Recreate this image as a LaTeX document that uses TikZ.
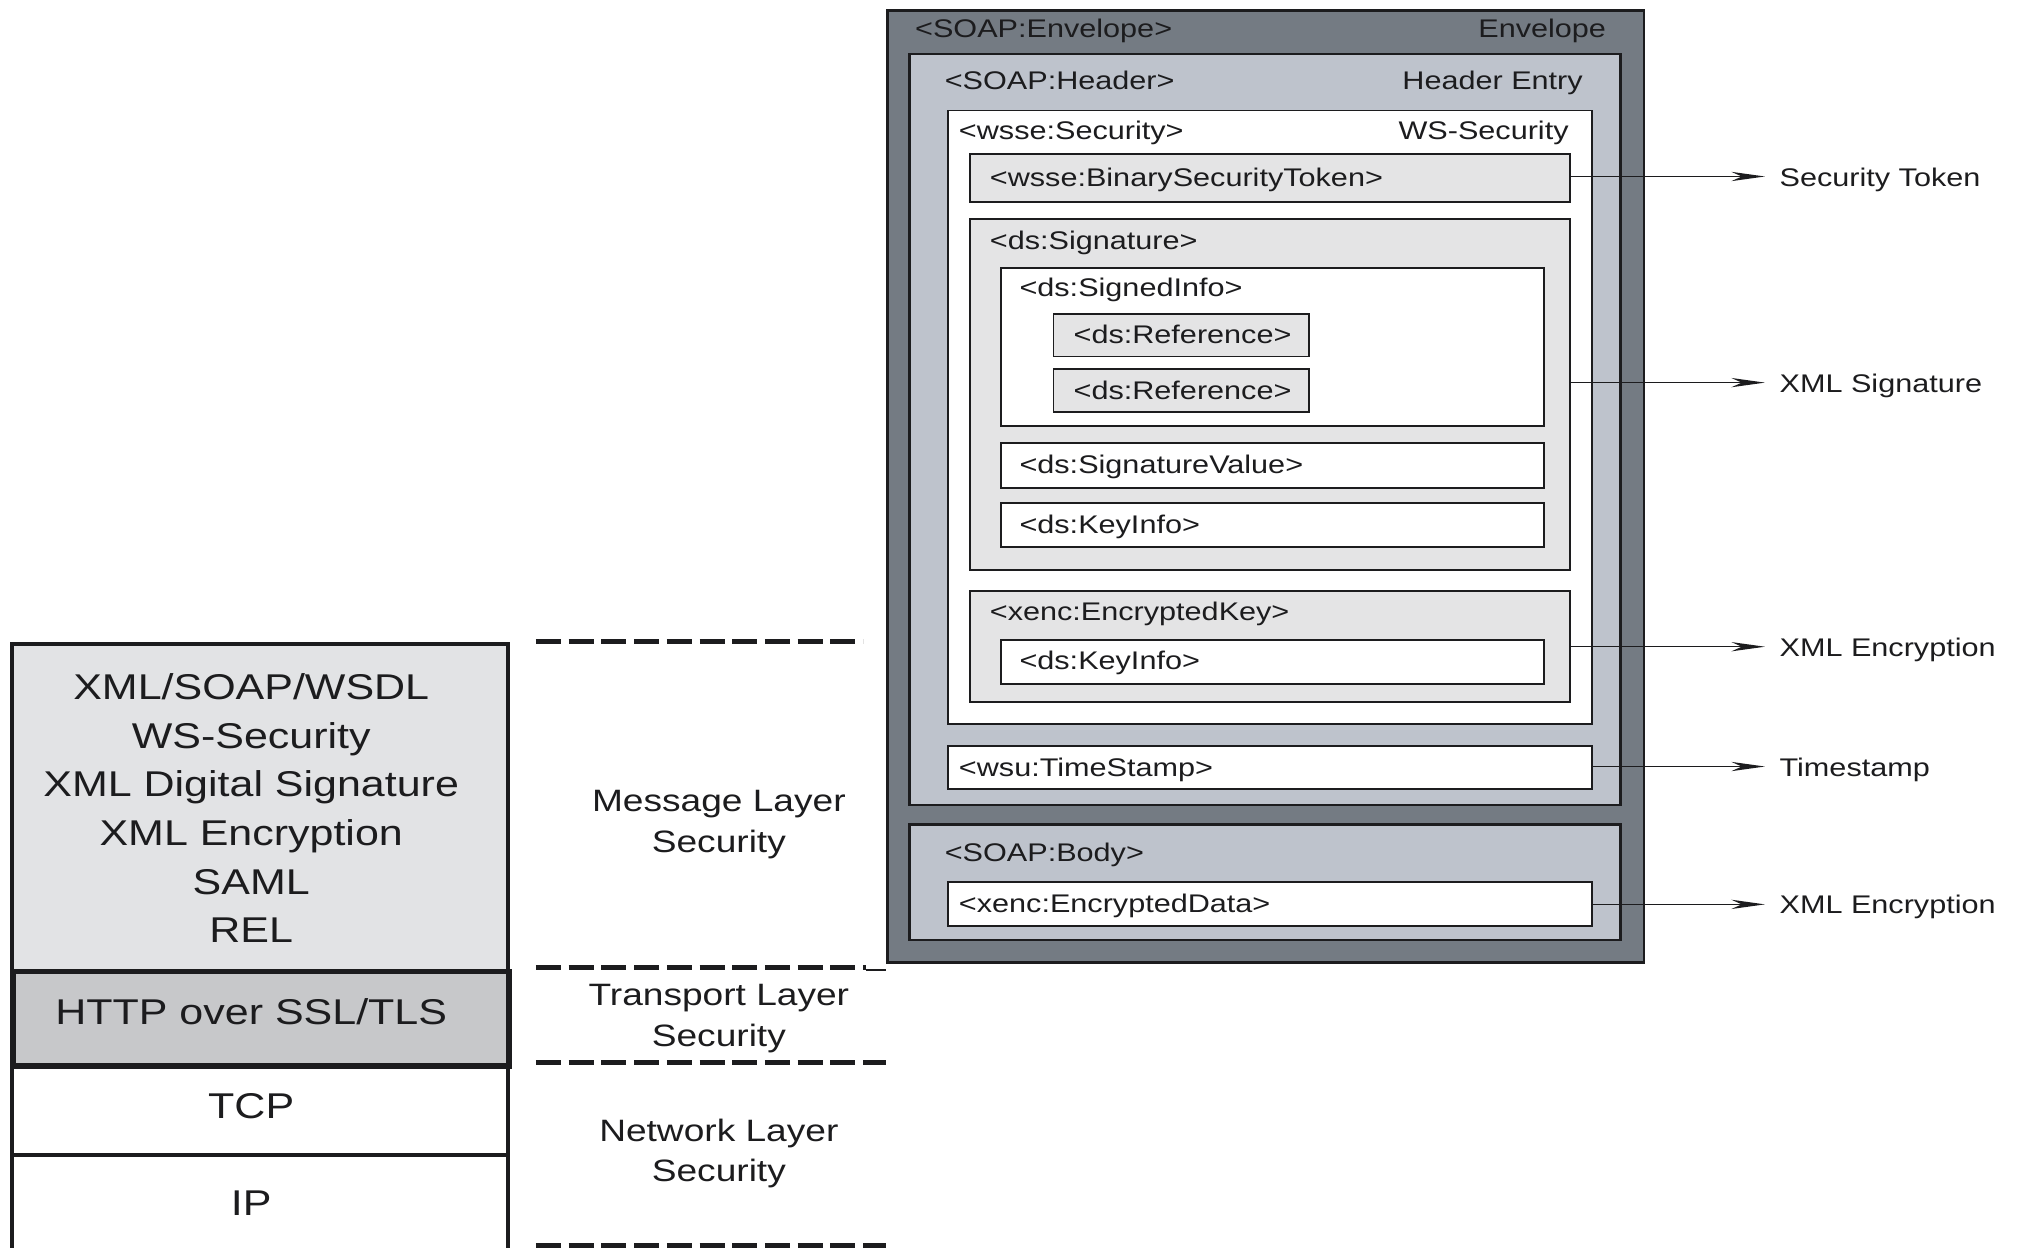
\documentclass[tikz,border=0pt]{standalone}
\usepackage{fontspec}
\setmainfont{Liberation Sans}[FakeStretch=1.2]
\usetikzlibrary{arrows.meta,calc}

\definecolor{envfill}{RGB}{116,123,131}
\definecolor{hdrfill}{RGB}{190,195,204}
\definecolor{lightbox}{RGB}{228,228,229}
\definecolor{msgfill}{RGB}{226,227,229}
\definecolor{httpfill}{RGB}{199,200,202}
\definecolor{ink}{RGB}{28,28,30}

% box node: style, name, left, top, right, bottom (in drawing units)
\newcommand\panel[6]{%
  \node[#1, anchor=north west,
        minimum width={(#5-#3)*0.5pt},
        minimum height={(#6-#4)*0.5pt}] (#2) at (#3,#4) {};}

\tikzset{
  pane/.style={draw=ink, inner sep=0pt, line width=0.75pt},
  envbox/.style={pane, fill=envfill, line width=1.1pt},
  hdrbox/.style={pane, fill=hdrfill, line width=0.9pt},
  whitebox/.style={pane, fill=white},
  greybox/.style={pane, fill=lightbox},
  tag/.style={inner sep=0pt, text=ink, font=\fontsize{9.9}{12}\selectfont,
              text height=1.7ex, text depth=0.3ex},
  outlabel/.style={tag, inner xsep=5.5pt, anchor=west},
  pointer/.style={draw=ink, line width=0.6pt,
                  -{Stealth[length=13pt, width=3.6pt, inset=4pt]}},
  layer/.style={draw=ink, inner sep=0pt, line width=1.6pt},
  stacktext/.style={inner sep=0pt, text=ink, align=center,
                    font=\fontsize{13.9}{18.9}\selectfont},
  zonetext/.style={inner sep=0pt, text=ink, align=center,
                   font=\fontsize{12}{15.8}\selectfont},
  separator/.style={draw=ink, line width=2pt, dash pattern=on 9.7pt off 3pt},
}

\begin{document}
\begin{tikzpicture}[x=0.5pt, y=-0.5pt]
\useasboundingbox (0,0) rectangle (1568,968.7);
\clip (0,0) rectangle (1568,968.7);

% ---------- SOAP message structure ----------
\panel{envbox}{env}{688}{7}{1275}{746}
\panel{hdrbox}{hdr}{705}{41}{1257}{624}
\panel{whitebox}{sec}{735}{85}{1235}{561}
\panel{greybox}{bst}{752}{119}{1218}{156}
\panel{greybox}{sig}{752}{169}{1218}{442}
\panel{whitebox}{si}{776}{207}{1198}{330}
\panel{greybox}{refa}{817}{243}{1015}{276}
\panel{greybox}{refb}{817}{286}{1015}{319}
\panel{whitebox}{sv}{776}{343}{1198}{378}
\panel{whitebox}{ki}{776}{390}{1198}{424}
\panel{greybox}{ek}{752}{458}{1218}{544}
\panel{whitebox}{kib}{776}{496}{1198}{530}
\panel{whitebox}{ts}{735}{578}{1235}{612}
\panel{hdrbox}{body}{705}{639}{1257}{729}
\panel{whitebox}{ed}{735}{684}{1235}{718}

\node[tag, anchor=west] (envT) at (710,21.5) {<SOAP:Envelope>};
\node[tag, anchor=east] (envR) at (1247,21.5) {Envelope};
\node[tag, anchor=west] (hdrT) at (733,62) {<SOAP:Header>};
\node[tag, anchor=east] (hdrR) at (1229,62) {Header Entry};
\node[tag, anchor=west] (secT) at (744,101) {<wsse:Security>};
\node[tag, anchor=east] (secR) at (1218,101) {WS-Security};
\node[tag, anchor=west] (bstT) at (768,137.5) {<wsse:BinarySecurityToken>};
\node[tag, anchor=west] (sigT) at (768,186) {<ds:Signature>};
\node[tag, anchor=west] (siT) at (791,223) {<ds:SignedInfo>};
\node[tag, anchor=west] (refaT) at (833,259.5) {<ds:Reference>};
\node[tag, anchor=west] (refbT) at (833,302.5) {<ds:Reference>};
\node[tag, anchor=west] (svT) at (791,360.5) {<ds:SignatureValue>};
\node[tag, anchor=west] (kiT) at (791,407) {<ds:KeyInfo>};
\node[tag, anchor=west] (ekT) at (768,474.5) {<xenc:EncryptedKey>};
\node[tag, anchor=west] (kibT) at (791,512.5) {<ds:KeyInfo>};
\node[tag, anchor=west] (tsT) at (744,595) {<wsu:TimeStamp>};
\node[tag, anchor=west] (bodyT) at (733,661) {<SOAP:Body>};
\node[tag, anchor=west] (edT) at (744,701) {<xenc:EncryptedData>};

% ---------- callouts ----------
\node[outlabel] (lTok) at (1370,137) {Security Token};
\node[outlabel] (lSig) at (1370,297) {XML Signature};
\node[outlabel] (lEncA) at (1370,502) {XML Encryption};
\node[outlabel] (lTs) at (1370,595) {Timestamp};
\node[outlabel] (lEncB) at (1370,702) {XML Encryption};

\draw[pointer] (bst.east |- lTok.west) -- (lTok.west);
\draw[pointer] (sig.east |- lSig.west) -- (lSig.west);
\draw[pointer] (ek.east |- lEncA.west) -- (lEncA.west);
\draw[pointer] (ts.east |- lTs.west) -- (lTs.west);
\draw[pointer] (ed.east |- lEncB.west) -- (lEncB.west);

% ---------- protocol stack ----------
\panel{layer, fill=msgfill}{msg}{8}{498}{393}{752}
\panel{layer, fill=white}{tcp}{8}{825}{393}{895}
\panel{layer, fill=white}{ip}{8}{895}{393}{990}
\panel{layer, fill=httpfill, line width=2.2pt}{http}{8}{752}{393}{825}

\node[stacktext] (msgT) at (195,627.3)
  {XML/SOAP/WSDL\\WS-Security\\XML Digital Signature\\XML Encryption\\SAML\\REL};
\node[stacktext] (httpT) at (195,785) {HTTP over SSL/TLS};
\node[stacktext] (tcpT) at (195,859) {TCP};
\node[stacktext] (ipT) at (195,934) {IP};

% ---------- security zones ----------
\coordinate (sepAa) at (416,498);  \coordinate (sepAb) at (670,498);
\coordinate (sepBa) at (416,751);  \coordinate (sepBb) at (672,751);
\coordinate (sepCa) at (416,825);  \coordinate (sepCb) at (688,825);
\coordinate (sepDa) at (416,967);  \coordinate (sepDb) at (688,967);
\coordinate (tailA) at (672,753);  \coordinate (tailB) at (688,753);

\draw[separator] (sepAa) -- (sepAb);
\draw[separator] (sepBa) -- (sepBb);
\draw[separator] (sepCa) -- (sepCb);
\draw[separator] (sepDa) -- (sepDb);
\draw[draw=ink, line width=0.7pt] (tailA) -- (tailB);

\node[zonetext] (zMsg) at (558,640.3) {Message Layer\\Security};
\node[zonetext] (zTr) at (558,790.8) {Transport Layer\\Security};
\node[zonetext] (zNet) at (558,895.3) {Network Layer\\Security};
\end{tikzpicture}
\end{document}
